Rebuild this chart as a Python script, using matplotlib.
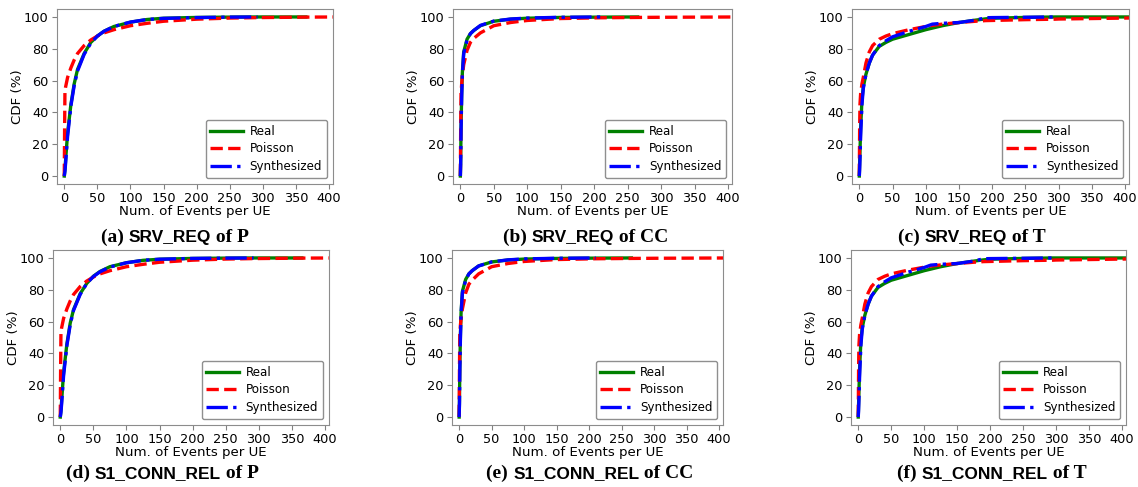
import numpy as np
import matplotlib
matplotlib.use("Agg")
import matplotlib.pyplot as plt
from matplotlib.offsetbox import TextArea, HPacker, AnchoredOffsetbox

nan = np.nan

# x grids (events per UE) for each workload type
X_P = [0, 0.5, 1, 2, 5, 10, 15, 20, 30, 40, 50, 60, 75, 100, 125, 150, 200, 250, 292, 365, 420]
X_CC = [0, 0.5, 1, 2, 3, 5, 10, 15, 20, 30, 50, 75, 100, 150, 210, 265, 300, 420]
X_T = [0, 0.5, 1, 2, 4, 6, 10, 15, 20, 30, 40, 50, 75, 100, 110, 125, 150, 175, 190, 200,
       250, 295, 300, 400, 420]

# (a) SRV_REQ of P
REAL_A = [0, 2, 4, 10, 27, 45, 58, 67, 77, 84, 88, 91, 94, 96.7, 98.4, 99.2, 99.7, 99.9, 100, 100, nan]
POIS_A = [0, 30, 53, 56, 62, 68, 73, 77, 82, 85.5, 88, 90, 92, 94.5, 96, 97.3, 98.6, 99.3, 99.6, 99.9, 100]
SYN_A = [0, 1.5, 3, 8, 25, 44, 57, 66, 76.5, 83.5, 88, 91, 94, 96.8, 98.4, 99.1, 99.6, 99.9, 100, nan, nan]

# (b) SRV_REQ of CC
REAL_B = [0, 10, 30, 52, 65, 78, 86, 89.5, 91.5, 94.5, 97.3, 98.6, 99.2, 99.7, 99.9, 100, nan, nan]
POIS_B = [0, 30, 52, 58, 63, 70, 79, 84, 86.5, 90, 94.5, 96.5, 97.8, 99, 99.5, 99.7, 99.8, 100]
SYN_B = [0, 8, 28, 50, 64, 77, 85.5, 89.5, 91.5, 94.7, 97.4, 98.7, 99.3, 99.8, 100, nan, nan, nan]

# (c) SRV_REQ of T
REAL_C = [0, 8, 15, 30, 48, 56, 64, 71, 76, 81.5, 84, 86, 89, 92, 93, 94.5, 96.5, 98, 98.8, 99.2,
          99.7, 100, 100, 100, 100]
POIS_C = [0, 30, 45, 52, 58, 62, 71, 78, 82, 86, 88, 89.5, 92, 94, 94.7, 95.5, 96.5, 97.3, 97.7, 97.8,
          98.3, 98.6, 98.7, 99.3, 99.4]
SYN_C = [0, 4, 10, 25, 45, 55, 64, 71, 76, 82, 85, 87.5, 91, 94, 95.5, 96, 96.5, 98, 99.5, 99.6,
         99.8, 100, nan, nan, nan]

# (d) S1_CONN_REL of P
REAL_D = [0, 2, 4, 10, 28, 46, 59, 67.5, 77.5, 84, 88.5, 91.5, 94.5, 97, 98.5, 99.2, 99.7, 99.9, 100, 100, nan]
POIS_D = [0, 30, 53, 56, 62, 68, 73, 77, 82, 85.5, 88, 90, 92, 94.5, 96, 97.3, 98.6, 99.3, 99.6, 99.9, 100]
SYN_D = [0, 1.5, 3, 8, 26, 45, 58, 67, 77, 84, 88.3, 91.3, 94.3, 97, 98.5, 99.2, 99.7, 99.9, 100, nan, nan]

# (e) S1_CONN_REL of CC
REAL_E = [0, 10, 30, 52, 66, 79, 86.5, 90, 92, 95, 97.5, 98.7, 99.3, 99.7, 99.9, 100, nan, nan]
POIS_E = [0, 30, 52, 58, 62, 68, 78, 83.5, 86, 90, 94.5, 96.5, 97.8, 99, 99.5, 99.7, 99.8, 100]
SYN_E = [0, 8, 28, 50, 65, 78, 86, 90, 92, 95, 97.5, 98.8, 99.4, 99.8, 100, nan, nan, nan]

# (f) S1_CONN_REL of T
REAL_F = [0, 8, 15, 30, 48, 56, 64, 71, 76, 81.5, 84, 86, 89, 92, 93, 94.5, 96.5, 98, 98.8, 99.2,
          99.7, 100, 100, 100, 100]
POIS_F = [0, 30, 45, 52, 58, 62, 71, 78, 82, 86.5, 88.5, 90, 92.3, 94.2, 94.9, 95.6, 96.5, 97.3, 97.7, 97.8,
          98.3, 98.6, 98.7, 99.3, 99.4]
SYN_F = [0, 4, 10, 25, 45, 55, 64, 71, 76, 82, 85, 87.5, 91, 94, 95.5, 96, 96.5, 98, 99.5, 99.6,
         99.8, 100, nan, nan, nan]

EVENTS = ["SRV_REQ", "SRV_REQ", "SRV_REQ", "S1_CONN_REL", "S1_CONN_REL", "S1_CONN_REL"]
GROUPS = ["P", "CC", "T", "P", "CC", "T"]
LETTERS = ["a", "b", "c", "d", "e", "f"]
SERIES = ["Real", "Poisson", "Synthesized"]

panels = [
    (X_P, REAL_A, POIS_A, SYN_A),
    (X_CC, REAL_B, POIS_B, SYN_B),
    (X_T, REAL_C, POIS_C, SYN_C),
    (X_P, REAL_D, POIS_D, SYN_D),
    (X_CC, REAL_E, POIS_E, SYN_E),
    (X_T, REAL_F, POIS_F, SYN_F),
]

# axes rectangles in pixels: left, top, right, bottom
W, H = 1138, 487
boxes = [
    (57, 9, 333, 184), (453, 9, 732, 184), (852, 9, 1129, 184),
    (53, 250, 329, 425), (452, 250, 723, 425), (851, 250, 1126, 425),
]
caption_x = [175, 586, 972, 162, 590, 992]
caption_y = [237, 237, 237, 473, 473, 473]

fig = plt.figure(figsize=(W / 100, H / 100), dpi=100)

for i, (x, real, pois, syn) in enumerate(panels):
    l, t, r, b = boxes[i]
    ax = fig.add_axes([l / W, 1 - b / H, (r - l) / W, (b - t) / H])
    ax.plot(x, real, color="green", lw=2.4, label=SERIES[0])
    ax.plot(x, pois, color="red", lw=2.4, ls="--", label=SERIES[1])
    ax.plot(x, syn, color="blue", lw=2.4, ls="-.", label=SERIES[2])
    ax.set_xlim(-11, 406)
    ax.set_ylim(-5, 105)
    ax.set_xticks(np.arange(0, 401, 50))
    ax.set_yticks(np.arange(0, 101, 20))
    ax.tick_params(labelsize=9.3, color="0.5", length=3.5, pad=2.5)
    ax.set_xlabel("Num. of Events per UE", fontsize=9.6, labelpad=0)
    ax.set_ylabel("CDF (%)", fontsize=9.6, labelpad=0)
    for s in ax.spines.values():
        s.set_color("0.55")
    leg = ax.legend(loc="lower right", fontsize=8.6, fancybox=True, handlelength=2.7,
                    handletextpad=0.6, labelspacing=0.4)
    leg.get_frame().set_edgecolor("0.45")

    # caption: serif bold with sans bold event name
    parts = [
        TextArea("(%s) " % LETTERS[i], textprops=dict(family="Liberation Serif", weight="bold", size=14)),
        TextArea(EVENTS[i], textprops=dict(family="Liberation Sans", weight="bold", size=12.5)),
        TextArea(" of %s" % GROUPS[i], textprops=dict(family="Liberation Serif", weight="bold", size=14)),
    ]
    box = HPacker(children=parts, align="baseline", pad=0, sep=0)
    anc = AnchoredOffsetbox(loc="center", child=box, frameon=False, pad=0,
                            bbox_to_anchor=(caption_x[i] / W, 1 - caption_y[i] / H),
                            bbox_transform=fig.transFigure, borderpad=0)
    fig.add_artist(anc)

fig.savefig("out.png", dpi=100)
